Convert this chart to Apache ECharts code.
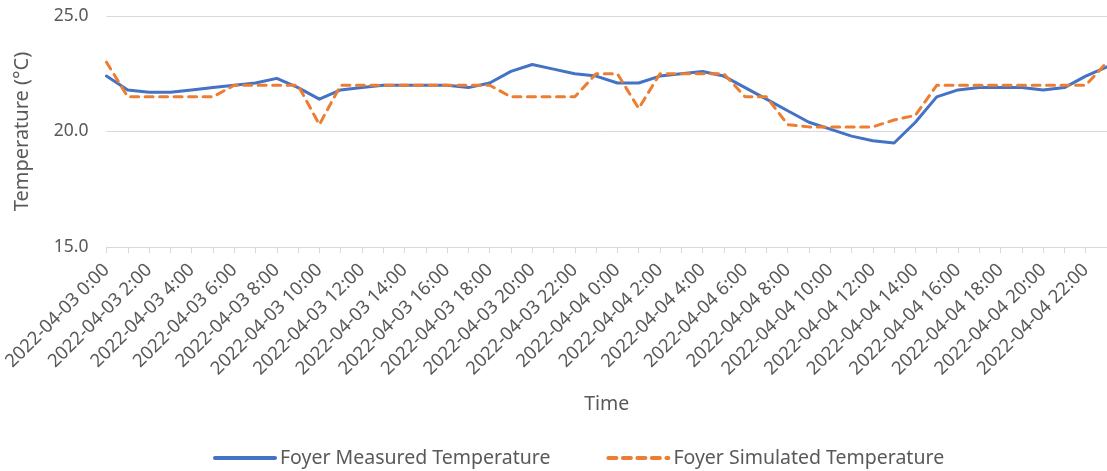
<!DOCTYPE html>
<html>
<head>
<meta charset="utf-8">
<script src="https://cdn.jsdelivr.net/npm/echarts@6/dist/echarts.min.js"></script>
<style>html,body{margin:0;padding:0;background:#fff}#c{width:1107px;height:471px}</style>
</head>
<body>
<div id="c"></div>
<script>
var categories = [
  "2022-04-03 0:00","2022-04-03 1:00","2022-04-03 2:00","2022-04-03 3:00","2022-04-03 4:00","2022-04-03 5:00",
  "2022-04-03 6:00","2022-04-03 7:00","2022-04-03 8:00","2022-04-03 9:00","2022-04-03 10:00","2022-04-03 11:00",
  "2022-04-03 12:00","2022-04-03 13:00","2022-04-03 14:00","2022-04-03 15:00","2022-04-03 16:00","2022-04-03 17:00",
  "2022-04-03 18:00","2022-04-03 19:00","2022-04-03 20:00","2022-04-03 21:00","2022-04-03 22:00","2022-04-03 23:00",
  "2022-04-04 0:00","2022-04-04 1:00","2022-04-04 2:00","2022-04-04 3:00","2022-04-04 4:00","2022-04-04 5:00",
  "2022-04-04 6:00","2022-04-04 7:00","2022-04-04 8:00","2022-04-04 9:00","2022-04-04 10:00","2022-04-04 11:00",
  "2022-04-04 12:00","2022-04-04 13:00","2022-04-04 14:00","2022-04-04 15:00","2022-04-04 16:00","2022-04-04 17:00",
  "2022-04-04 18:00","2022-04-04 19:00","2022-04-04 20:00","2022-04-04 21:00","2022-04-04 22:00","2022-04-04 23:00"
];
var measured = [
  22.4,21.8,21.7,21.7,21.8,21.9,22.0,22.1,22.3,21.9,21.4,21.8,
  21.9,22.0,22.0,22.0,22.0,21.9,22.1,22.6,22.9,22.7,22.5,22.4,
  22.1,22.1,22.4,22.5,22.6,22.4,21.9,21.4,20.9,20.4,20.1,19.8,
  19.6,19.5,20.4,21.5,21.8,21.9,21.9,21.9,21.8,21.9,22.4,22.8
];
var simulated = [
  23.0,21.5,21.5,21.5,21.5,21.5,22.0,22.0,22.0,22.0,20.3,22.0,
  22.0,22.0,22.0,22.0,22.0,22.0,22.0,21.5,21.5,21.5,21.5,22.5,
  22.5,21.0,22.5,22.5,22.5,22.5,21.5,21.5,20.3,20.2,20.2,20.2,
  20.2,20.5,20.7,22.0,22.0,22.0,22.0,22.0,22.0,22.0,22.0,23.0
];
var yTicks = [15, 20, 25];

var FONT = "Noto Sans";
var TXT = "#595959";
var chart = echarts.init(document.getElementById('c'), null, {renderer: 'canvas'});
chart.setOption({
  animation: false,
  textStyle: {fontFamily: FONT, color: TXT},
  grid: {left: 106, right: 0, top: 16, bottom: 224, containLabel: false},
  xAxis: {
    type: 'category',
    boundaryGap: false,
    data: categories,
    name: 'Time',
    nameLocation: 'middle',
    nameGap: 147,
    nameTextStyle: {fontFamily: FONT, fontSize: 19.5, color: TXT},
    axisLine: {lineStyle: {color: '#d9d9d9', width: 1}},
    axisTick: {show: true, interval: 0, length: 6, lineStyle: {color: '#d9d9d9'}},
    axisLabel: {interval: 1, rotate: 45, fontFamily: FONT, fontSize: 18.5, color: TXT, margin: 20}
  },
  yAxis: {
    type: 'value',
    min: yTicks[0],
    max: yTicks[yTicks.length - 1],
    interval: yTicks[1] - yTicks[0],
    name: 'Temperature (°C)',
    nameLocation: 'middle',
    nameGap: 74,
    nameTextStyle: {fontFamily: FONT, fontSize: 20, color: TXT},
    axisLine: {show: false},
    axisTick: {show: false},
    axisLabel: {fontFamily: FONT, fontSize: 17.5, color: TXT, margin: 18, formatter: function (v) { return v.toFixed(1); }},
    splitLine: {lineStyle: {color: '#d9d9d9', width: 1}}
  },
  legend: {
    top: 443,
    left: 208,
    itemGap: 56,
    itemWidth: 60,
    itemHeight: 14,
    itemStyle: {opacity: 0},
    lineStyle: {width: 4},
    textStyle: {fontFamily: FONT, fontSize: 19.5, color: TXT},
    data: ['Foyer Measured Temperature', 'Foyer Simulated Temperature']
  },
  series: [
    {
      name: 'Foyer Measured Temperature',
      type: 'line',
      data: measured,
      symbol: 'none',
      lineStyle: {color: '#4472C4', width: 3, join: 'round', cap: 'round'},
      itemStyle: {color: '#4472C4'}
    },
    {
      name: 'Foyer Simulated Temperature',
      type: 'line',
      data: simulated,
      symbol: 'none',
      lineStyle: {color: '#ED7D31', width: 3, type: [8, 6.5], join: 'round', cap: 'round'},
      itemStyle: {color: '#ED7D31'}
    }
  ]
});
</script>
</body>
</html>
